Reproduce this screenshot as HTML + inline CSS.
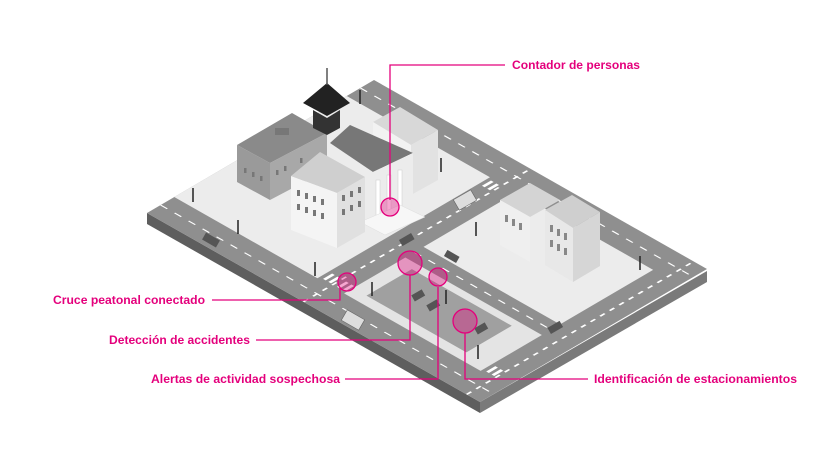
<!DOCTYPE html>
<html><head><meta charset="utf-8"><style>
html,body{margin:0;padding:0;background:#fff;}
svg{display:block;}
text{font-family:"Liberation Sans",sans-serif;font-weight:bold;fill:#e4007c;font-size:12px;}
</style></head><body>
<svg width="840" height="470" viewBox="0 0 840 470" xmlns="http://www.w3.org/2000/svg">
<!-- platform sides -->
<polygon points="147,213 480,402 480,413 147,224" fill="#5e5e5e"/>
<polygon points="480,402 707,271 707,282 480,413" fill="#7a7a7a"/>
<g transform="matrix(2.27,-1.33,3.33,1.89,147,213)">
  <rect x="0" y="0" width="100" height="100" fill="#8f8f8f"/>
  <rect x="12" y="0" width="76" height="43" fill="#ececec"/>
  <rect x="47" y="51" width="41" height="41" fill="#ececec"/>
  <rect x="12" y="51" width="27" height="41" fill="#e4e4e4"/>
  <rect x="16" y="55" width="20" height="30" fill="#a0a0a0"/>
  <g stroke="#fff" stroke-width="0.5" stroke-dasharray="2 2.2" fill="none">
    <line x1="6" y1="0" x2="6" y2="100"/>
    <line x1="94" y1="0" x2="94" y2="100"/>
    <line x1="0" y1="96" x2="100" y2="96"/>
    <line x1="0" y1="47" x2="100" y2="47"/>
    <line x1="43" y1="51" x2="43" y2="92"/>
  </g>
  <g fill="#fff">
    <rect x="13" y="44" width="4" height="0.8"/><rect x="13" y="45.6" width="4" height="0.8"/>
    <rect x="13" y="48.2" width="4" height="0.8"/><rect x="13" y="49.8" width="4" height="0.8"/>
    <rect x="13" y="93" width="4" height="0.8"/><rect x="13" y="94.6" width="4" height="0.8"/>
    <rect x="83" y="44" width="4" height="0.8"/><rect x="83" y="45.6" width="4" height="0.8"/>
  </g>
</g>
<!-- back white building -->
<polygon points="373,122 400,107 438,130 411,145" fill="#d8d8d8"/>
<polygon points="373,122 411,145 411,195 373,172" fill="#f2f2f2"/>
<polygon points="411,145 438,130 438,180 411,195" fill="#e2e2e2"/>
<!-- gray building -->
<polygon points="237,145 292,113 327,133 270,163" fill="#8a8a8a"/>
<polygon points="237,145 270,163 270,200 237,182" fill="#9a9a9a"/>
<polygon points="270,163 327,133 327,170 270,200" fill="#a8a8a8"/>
<rect x="275" y="128" width="14" height="7" fill="#777"/>
<!-- tower -->
<polygon points="313,110 327,118 340,110 340,128 327,135 313,128" fill="#333"/>
<polygon points="303,103 327,83 350,103 327,116" fill="#222"/>
<line x1="327" y1="68" x2="327" y2="85" stroke="#555" stroke-width="1.5"/>
<!-- temple roof -->
<polygon points="330,143 350,125 413,153 373,172" fill="#777"/>
<polygon points="373,172 413,153 405,168 385,177" fill="#f5f5f5"/>
<polygon points="373,172 413,153 413,210 373,230" fill="#ececec"/>
<g fill="#fff" stroke="#ccc" stroke-width="0.5"><rect x="376" y="180" width="4" height="42"/><rect x="387" y="175" width="4" height="42"/><rect x="398" y="170" width="4" height="42"/></g>
<polygon points="360,222 400,205 425,217 385,235" fill="#f7f7f7" stroke="#ddd" stroke-width="0.5"/>
<!-- front white building -->
<polygon points="291,176 320,152 365,177 337,193" fill="#cfcfcf"/>
<polygon points="291,176 337,193 337,248 291,230" fill="#f4f4f4"/>
<polygon points="337,193 365,177 365,232 337,248" fill="#e0e0e0"/>
<g fill="#777">
 <rect x="297" y="190" width="3" height="6"/><rect x="305" y="193" width="3" height="6"/><rect x="313" y="196" width="3" height="6"/><rect x="321" y="199" width="3" height="6"/>
 <rect x="297" y="204" width="3" height="6"/><rect x="305" y="207" width="3" height="6"/><rect x="313" y="210" width="3" height="6"/><rect x="321" y="213" width="3" height="6"/>
 <rect x="342" y="195" width="3" height="6"/><rect x="350" y="191" width="3" height="6"/><rect x="358" y="187" width="3" height="6"/>
 <rect x="342" y="209" width="3" height="6"/><rect x="350" y="205" width="3" height="6"/><rect x="358" y="201" width="3" height="6"/>
 <rect x="244" y="168" width="2.5" height="5"/><rect x="252" y="172" width="2.5" height="5"/><rect x="260" y="176" width="2.5" height="5"/>
 <rect x="276" y="170" width="2.5" height="5"/><rect x="284" y="166" width="2.5" height="5"/><rect x="300" y="158" width="2.5" height="5"/>
</g>
<!-- right block buildings -->
<polygon points="500,200 530,183 560,200 530,217" fill="#d4d4d4"/>
<polygon points="500,200 530,217 530,262 500,245" fill="#efefef"/>
<polygon points="545,210 572,195 600,212 573,228" fill="#cfcfcf"/>
<polygon points="545,210 573,228 573,282 545,265" fill="#e8e8e8"/>
<polygon points="573,228 600,212 600,266 573,282" fill="#d6d6d6"/>
<g fill="#888"><rect x="505" y="215" width="3" height="7"/><rect x="512" y="219" width="3" height="7"/><rect x="519" y="223" width="3" height="7"/><rect x="550" y="225" width="3" height="7"/><rect x="557" y="229" width="3" height="7"/><rect x="564" y="233" width="3" height="7"/><rect x="550" y="240" width="3" height="7"/><rect x="557" y="244" width="3" height="7"/><rect x="564" y="248" width="3" height="7"/></g>
<!-- cars -->
<g fill="#555">
 <rect x="203" y="236" width="16" height="8" transform="rotate(30 211 240)"/>
 <rect x="400" y="236" width="14" height="7" transform="rotate(-30 407 240)"/>
 <rect x="445" y="253" width="14" height="7" transform="rotate(30 452 256)"/>
 <rect x="548" y="324" width="14" height="7" transform="rotate(-30 555 327)"/>
 <rect x="412" y="292" width="12" height="7" transform="rotate(-30 418 295)"/>
 <rect x="427" y="302" width="12" height="7" transform="rotate(-30 433 305)"/>
 <rect x="475" y="325" width="12" height="7" transform="rotate(-30 481 328)"/>
</g>
<g fill="#ddd" stroke="#666" stroke-width="0.6">
 <rect x="455" y="194" width="20" height="12" transform="rotate(-30 465 200)"/>
 <rect x="343" y="314" width="20" height="12" transform="rotate(30 353 320)"/>
</g>
<!-- lamps -->
<g stroke="#222" stroke-width="1.5">
 <line x1="193" y1="188" x2="193" y2="202"/><line x1="238" y1="220" x2="238" y2="234"/><line x1="315" y1="262" x2="315" y2="276"/>
 <line x1="372" y1="282" x2="372" y2="296"/><line x1="476" y1="222" x2="476" y2="236"/><line x1="640" y1="256" x2="640" y2="270"/>
 <line x1="446" y1="290" x2="446" y2="304"/><line x1="478" y1="345" x2="478" y2="359"/><line x1="360" y1="90" x2="360" y2="104"/><line x1="441" y1="158" x2="441" y2="172"/>
</g>
<!-- connectors -->
<g stroke="#e4007c" stroke-width="1.3" fill="none">
 <polyline points="505,65 390,65 390,200"/>
 <polyline points="212,300 340,300 340,288"/>
 <polyline points="256,340 410,340 410,275"/>
 <polyline points="345,379 438,379 438,287"/>
 <polyline points="588,379 465,379 465,333"/>
</g>
<g fill="rgba(228,0,124,0.35)" stroke="#e4007c" stroke-width="1.3">
 <circle cx="390" cy="207" r="9"/>
 <circle cx="347" cy="282" r="9"/>
 <circle cx="410" cy="263" r="12"/>
 <circle cx="438" cy="277" r="9"/>
 <circle cx="465" cy="321" r="12"/>
</g>
<text x="512" y="69" textLength="128" lengthAdjust="spacingAndGlyphs">Contador de personas</text>
<text x="53" y="304" textLength="152" lengthAdjust="spacingAndGlyphs">Cruce peatonal conectado</text>
<text x="109" y="344" textLength="141" lengthAdjust="spacingAndGlyphs">Detección de accidentes</text>
<text x="151" y="383" textLength="189" lengthAdjust="spacingAndGlyphs">Alertas de actividad sospechosa</text>
<text x="594" y="383" textLength="203" lengthAdjust="spacingAndGlyphs">Identificación de estacionamientos</text>
</svg>
</body></html>
